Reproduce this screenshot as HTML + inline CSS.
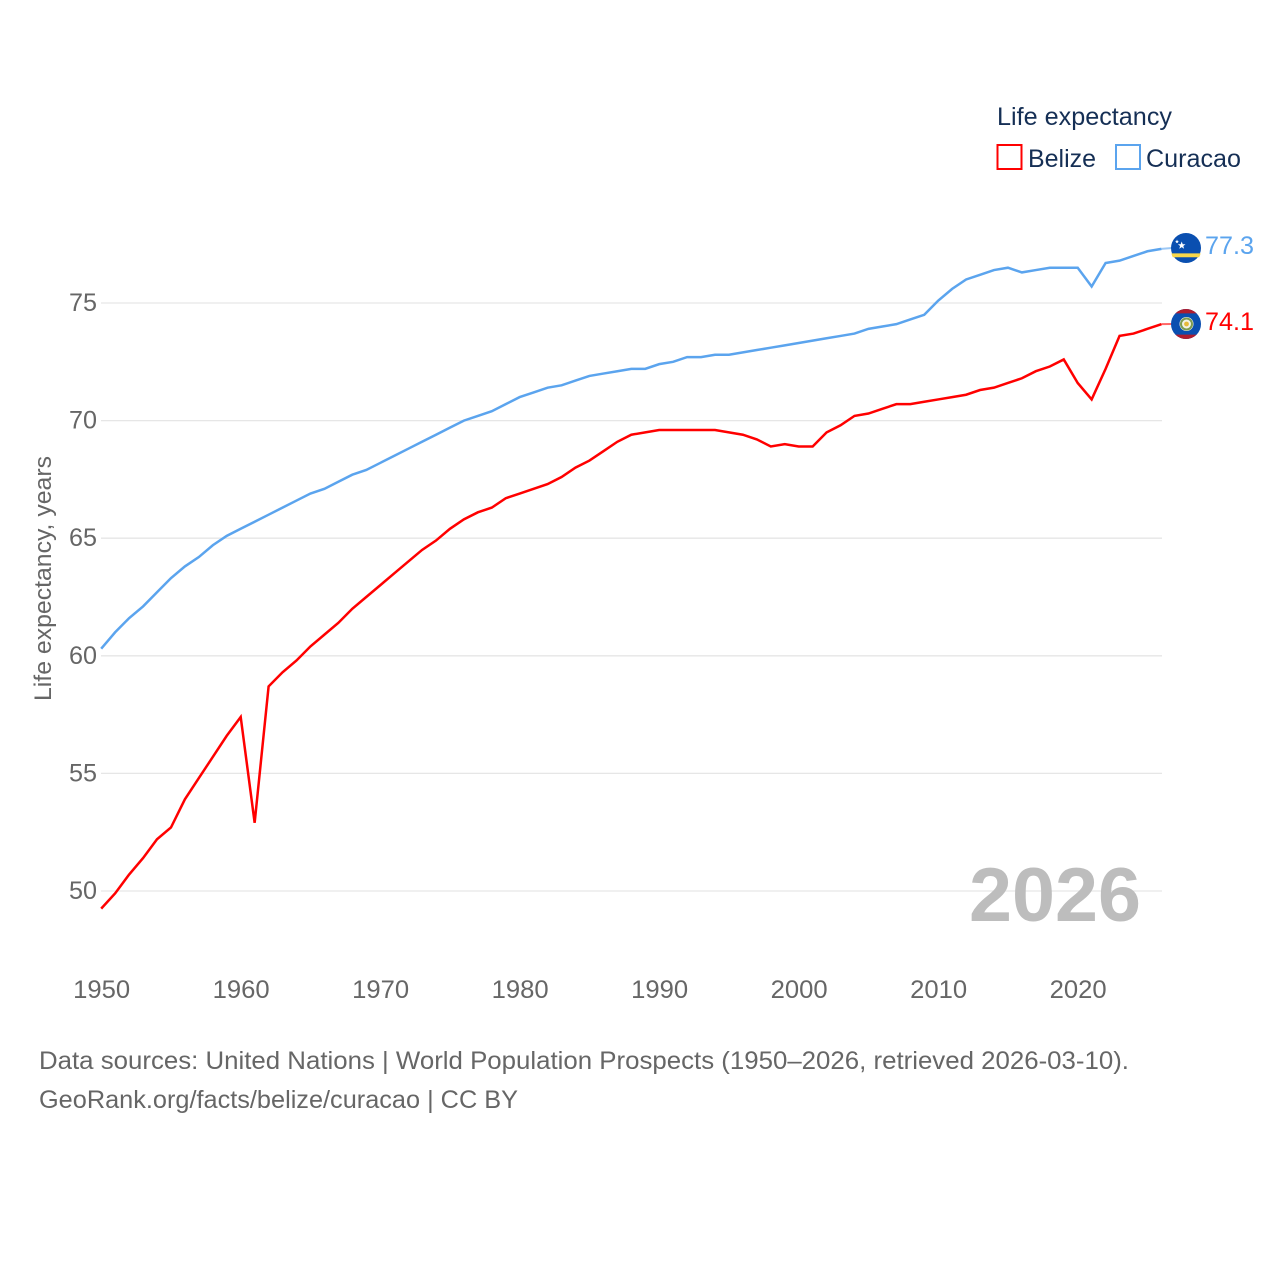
<!DOCTYPE html>
<html lang="en">
<head>
<meta charset="utf-8">
<title>Life expectancy: Belize and Curacao</title>
<style>
html,body{margin:0;padding:0;background:#fff;width:1280px;height:1280px;overflow:hidden}
svg{display:block}
text{font-family:"Liberation Sans",sans-serif}
</style>
</head>
<body>
<svg id="chart" xmlns="http://www.w3.org/2000/svg" width="1280" height="1280" viewBox="0 0 1280 1280">
  <rect width="1280" height="1280" fill="#fff"/>
  <g id="grid"></g>
  <g id="yticks"></g>
  <g id="xticks"></g>
  <text transform="translate(51,701) rotate(-90)" font-size="24" fill="#666" textLength="245" lengthAdjust="spacingAndGlyphs">Life expectancy, years</text>
  <text x="969" y="921" font-size="76" font-weight="bold" fill="#bdbdbd" textLength="172" lengthAdjust="spacingAndGlyphs">2026</text>
  <g id="series"></g>

  <g>
    <circle cx="1186" cy="248" r="15" fill="#0a4fb0"/>
    <path d="M1171.4 253.4h29.2a15 15 0 0 1-1.4 3.8h-26.4a15 15 0 0 1-1.4-3.8z" fill="#f9d84a"/>
    <polygon points="1181.7,241.5 1182.7,244.2 1185.5,244.3 1183.3,246 1184.1,248.7 1181.7,247.1 1179.3,248.7 1180.1,246 1177.9,244.3 1180.7,244.2" fill="#fff"/>
    <polygon points="1177,239.5 1177.5,240.9 1179,241 1177.8,241.9 1178.2,243.3 1177,242.5 1175.8,243.3 1176.2,241.9 1175,241 1176.5,240.9" fill="#fff"/>
  </g>
  <g>
    <circle cx="1186" cy="324" r="15" fill="#0a4fb0"/>
    <path d="M1175.4 313.4a15 15 0 0 1 21.2 0z" fill="#b01c2e"/>
    <path d="M1175.4 334.6a15 15 0 0 0 21.2 0z" fill="#b01c2e"/>
    <circle cx="1186.5" cy="324" r="7" fill="#f2f2e6"/>
    <circle cx="1186.5" cy="324" r="5.5" fill="none" stroke="#7c9c50" stroke-width="2"/>
    <circle cx="1186.5" cy="324" r="2.4" fill="#e6b93a"/>
  </g>

  <text id="label-curacao" x="1205" y="254" font-size="25" fill="#5ba4ee" textLength="49" lengthAdjust="spacingAndGlyphs"></text>
  <text id="label-belize" x="1205" y="330" font-size="25" fill="#ff0000" textLength="49" lengthAdjust="spacingAndGlyphs"></text>

  <g>
    <text x="997" y="125" font-size="25" fill="#152f55" textLength="175" lengthAdjust="spacingAndGlyphs">Life expectancy</text>
    <g>
      <rect x="997.5" y="145" width="24" height="24" fill="#fff" stroke="#ff0000" stroke-width="2"/>
      <text x="1028" y="167" font-size="25" fill="#152f55" textLength="68" lengthAdjust="spacingAndGlyphs">Belize</text>
    </g>
    <g>
      <rect x="1116" y="145" width="24" height="24" fill="#fff" stroke="#5ba4ee" stroke-width="2"/>
      <text x="1146" y="167" font-size="25" fill="#152f55" textLength="95" lengthAdjust="spacingAndGlyphs">Curacao</text>
    </g>
  </g>

  <g>
    <text x="39" y="1069" font-size="25" fill="#666" textLength="1090" lengthAdjust="spacingAndGlyphs">Data sources: United Nations | World Population Prospects (1950–2026, retrieved 2026-03-10).</text>
    <text x="39" y="1108" font-size="25" fill="#666" textLength="479" lengthAdjust="spacingAndGlyphs">GeoRank.org/facts/belize/curacao | CC BY</text>
  </g>
</svg>
<script>
const startYear = 1950;
const xTickLabels = [1950,1960,1970,1980,1990,2000,2010,2020];
const yTickLabels = [50,55,60,65,70,75];
const belizeValues = [49.25,49.9,50.7,51.4,52.2,52.7,53.9,54.8,55.7,56.6,57.4,52.9,58.7,59.3,59.8,60.4,60.9,61.4,62.0,62.5,63.0,63.5,64.0,64.5,64.9,65.4,65.8,66.1,66.3,66.7,66.9,67.1,67.3,67.6,68.0,68.3,68.7,69.1,69.4,69.5,69.6,69.6,69.6,69.6,69.6,69.5,69.4,69.2,68.9,69.0,68.9,68.9,69.5,69.8,70.2,70.3,70.5,70.7,70.7,70.8,70.9,71.0,71.1,71.3,71.4,71.6,71.8,72.1,72.3,72.6,71.6,70.9,72.2,73.6,73.7,73.9,74.1];
const curacaoValues = [60.3,61.0,61.6,62.1,62.7,63.3,63.8,64.2,64.7,65.1,65.4,65.7,66.0,66.3,66.6,66.9,67.1,67.4,67.7,67.9,68.2,68.5,68.8,69.1,69.4,69.7,70.0,70.2,70.4,70.7,71.0,71.2,71.4,71.5,71.7,71.9,72.0,72.1,72.2,72.2,72.4,72.5,72.7,72.7,72.8,72.8,72.9,73.0,73.1,73.2,73.3,73.4,73.5,73.6,73.7,73.9,74.0,74.1,74.3,74.5,75.1,75.6,76.0,76.2,76.4,76.5,76.3,76.4,76.5,76.5,76.5,75.7,76.7,76.8,77.0,77.2,77.3];

const NS = 'http://www.w3.org/2000/svg';
const xScale = year => 101.2 + (year - 1950) * 13.95;
const yScale = value => 891 - (value - 50) * 23.52;

function make(tag, attrs, parent, text) {
  const el = document.createElementNS(NS, tag);
  for (const k in attrs) el.setAttribute(k, attrs[k]);
  if (text !== undefined) el.textContent = text;
  parent.appendChild(el);
  return el;
}

const grid = document.getElementById('grid');
const yticks = document.getElementById('yticks');
const xticks = document.getElementById('xticks');
const series = document.getElementById('series');

yTickLabels.forEach(v => {
  const line = make('line', {x1: 101, x2: 1162, y1: yScale(v), y2: yScale(v), stroke: '#e6e6e6', 'stroke-width': 1.3}, grid);
  
  
  const label = make('text', {x: 97, y: yScale(v) + 8, 'font-size': 25, fill: '#666', 'text-anchor': 'end', textLength: 28, lengthAdjust: 'spacingAndGlyphs'}, yticks, String(v));
  
  
});

xTickLabels.forEach(y => {
  const label = make('text', {x: xScale(y) - 28, y: 998, 'font-size': 25, fill: '#666', textLength: 57, lengthAdjust: 'spacingAndGlyphs'}, xticks, String(y));
  
  
});

function drawSeries(values, color, flagY, name) {
  const pts = values.map((v, i) => xScale(startYear + i).toFixed(2) + ',' + yScale(v).toFixed(2));
  const last = values.length - 1;
  const connector = make('line', {x1: xScale(startYear + last), y1: yScale(values[last]), x2: 1172, y2: flagY, stroke: color, 'stroke-width': 2, 'stroke-opacity': 0.6}, series);
  
  
  const line = make('polyline', {points: pts.join(' '), fill: 'none', stroke: color, 'stroke-width': 2.5, 'stroke-linejoin': 'miter'}, series);
  
  
}

drawSeries(curacaoValues, '#5ba4ee', 248, 'curacao');
drawSeries(belizeValues, '#ff0000', 324, 'belize');

document.getElementById('label-curacao').textContent = curacaoValues[curacaoValues.length - 1].toFixed(1);
document.getElementById('label-belize').textContent = belizeValues[belizeValues.length - 1].toFixed(1);
</script>
</body>
</html>
